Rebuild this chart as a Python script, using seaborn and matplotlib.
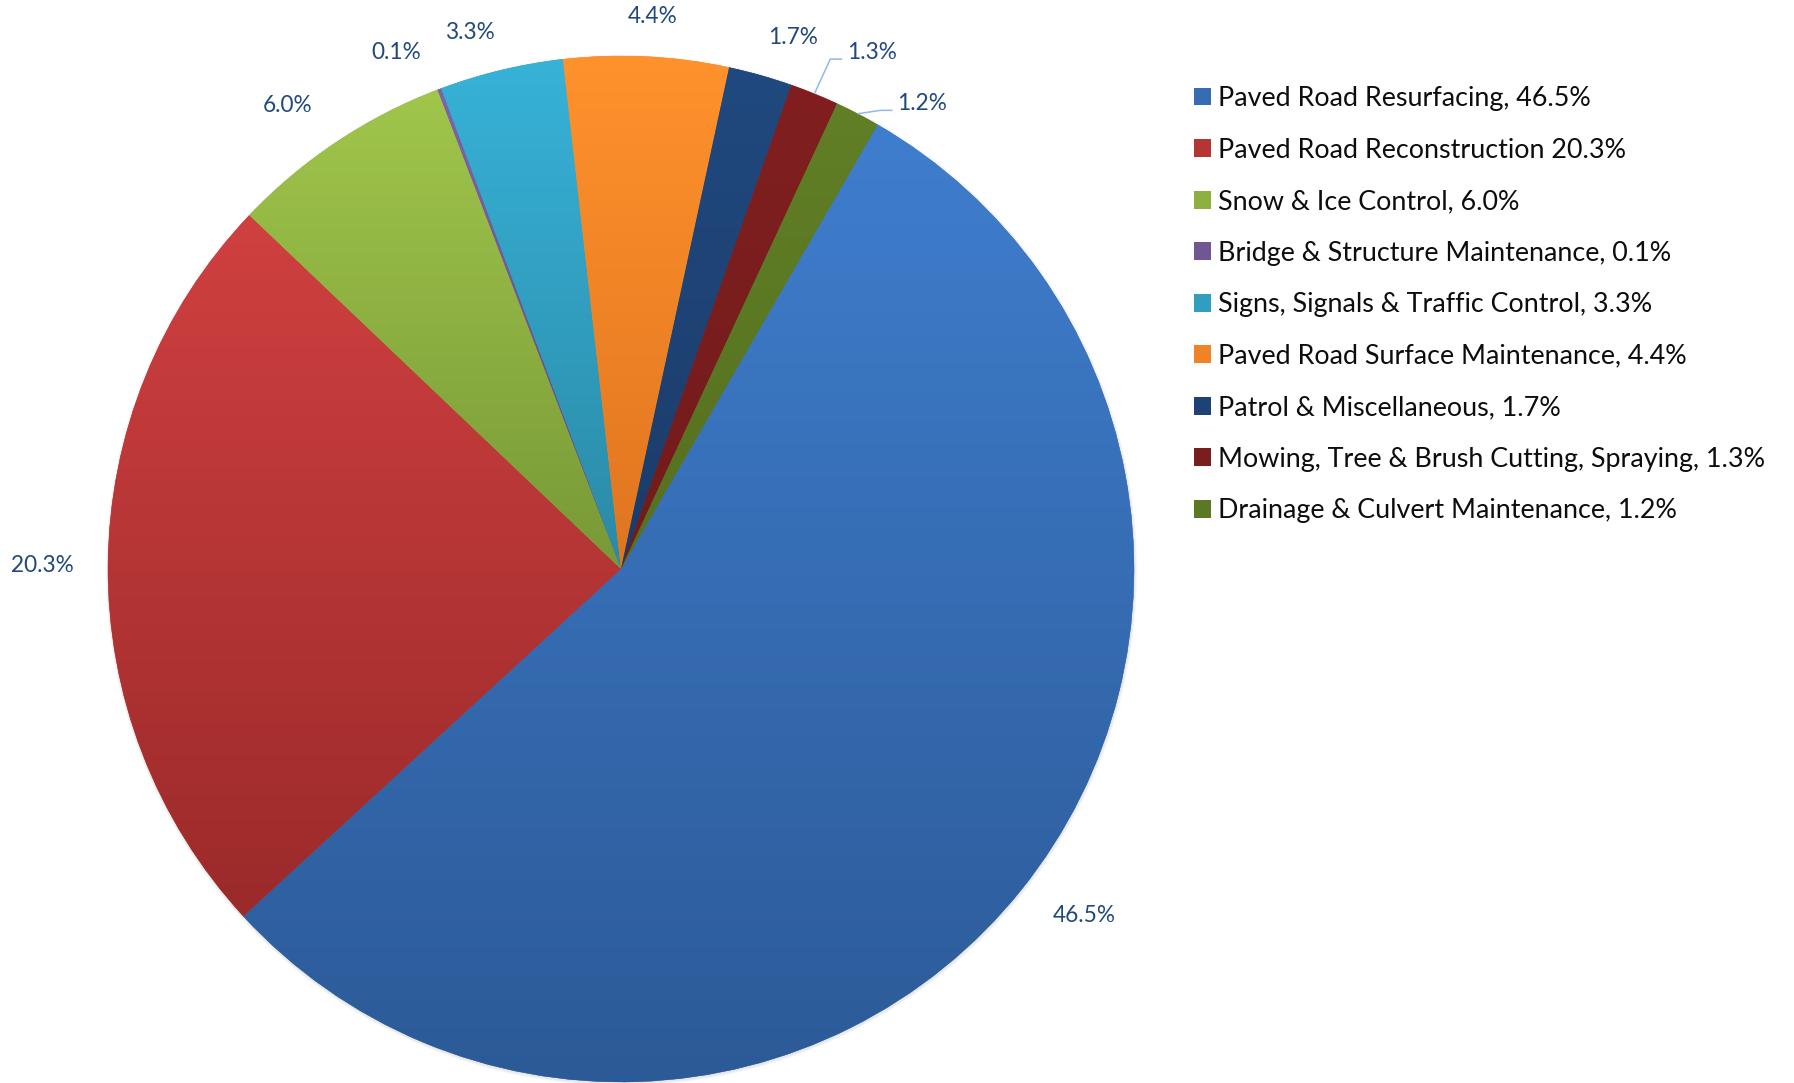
import numpy as np
import matplotlib
matplotlib.use("Agg")
import matplotlib.pyplot as plt
import seaborn as sns
from matplotlib.patches import Patch, Circle
from matplotlib.colors import to_rgb

# ---------------- data ----------------
categories = [
    "Paved Road Resurfacing",
    "Paved Road Reconstruction",
    "Snow & Ice Control",
    "Bridge & Structure Maintenance",
    "Signs, Signals & Traffic Control",
    "Paved Road Surface Maintenance",
    "Patrol & Miscellaneous",
    "Mowing, Tree & Brush Cutting, Spraying",
    "Drainage & Culvert Maintenance",
]
shares = [46.5, 20.3, 6.0, 0.1, 3.3, 4.4, 1.7, 1.3, 1.2]
legend_labels = [
    "Paved Road Resurfacing, 46.5%",
    "Paved Road Reconstruction 20.3%",
    "Snow & Ice Control, 6.0%",
    "Bridge & Structure Maintenance, 0.1%",
    "Signs, Signals & Traffic Control, 3.3%",
    "Paved Road Surface Maintenance, 4.4%",
    "Patrol & Miscellaneous, 1.7%",
    "Mowing, Tree & Brush Cutting, Spraying, 1.3%",
    "Drainage & Culvert Maintenance, 1.2%",
]
pct_labels = [f"{v:.1f}%" for v in shares]

# ---------------- style ----------------
top_colors = ["#3F7ECE", "#D04040", "#A1C64B", "#8064A8", "#37B2D8",
              "#FF922C", "#20497F", "#811F20", "#617F26"]
bottom_colors = ["#2C5A97", "#9B2A2A", "#789937", "#60477F", "#2B8AA6",
                 "#DF7520", "#1C3C69", "#721B1B", "#55701F"]
label_color = "#1F497D"
leader_color = "#95B8E3"

W, H = 1794, 1083
sns.set_theme(style="white")
plt.rcParams["font.family"] = ["Lato", "DejaVu Sans"]

fig = plt.figure(figsize=(W / 100, H / 100), dpi=100)
ax = fig.add_axes([0, 0, 1, 1])

cx, cy, R = 621.0, H - 569.0, 513.0

def blend(a, b, t):
    a, b = np.array(to_rgb(a)), np.array(to_rgb(b))
    return tuple((1 - t) * a + t * b)

mid_colors = [blend(a, b, 0.5) for a, b in zip(top_colors, bottom_colors)]

# soft shadow
for k in range(4):
    ax.add_patch(Circle((cx + 0.5, cy - 1.2), R + 0.7 * (k + 1), facecolor="black",
                        edgecolor="none", alpha=0.022, zorder=0.5))

wedges, _ = ax.pie(shares, colors=mid_colors, startangle=60, counterclock=False,
                   center=(cx, cy), radius=R, frame=False,
                   wedgeprops=dict(linewidth=0.3, edgecolor="none", zorder=1))
for w, c in zip(wedges, mid_colors):
    w.set_edgecolor(c)

# vertical gradient inside each slice
t = np.linspace(0, 1, 256)[:, None, None]
for w, ct, cb in zip(wedges, top_colors, bottom_colors):
    ext = w.get_path().get_extents()
    img = (1 - t) * np.array(to_rgb(ct)) + t * np.array(to_rgb(cb))
    im = ax.imshow(img, extent=(ext.x0, ext.x1, ext.y0, ext.y1), origin="upper",
                   aspect="auto", interpolation="bilinear", zorder=1.5)
    im.set_clip_path(w)

ax.set_xlim(0, W)
ax.set_ylim(0, H)
ax.set_aspect("auto")
ax.axis("off")

# data labels (outside end)
label_r = [1.128, 1.128, 1.113, 1.099, 1.087, 1.078, 1.089, 1.119, 1.080]
label_shift = [-1.9, -0.1, -2.0, -2.8, -2.2, 0.4, 2.2, 3.75, 5.45]
has_leader = [False] * 7 + [True, True]

renderer = fig.canvas.get_renderer()
for w, txt, rf, sh, ld in zip(wedges, pct_labels, label_r, label_shift, has_leader):
    mid = 0.5 * (w.theta1 + w.theta2)
    a = np.deg2rad(mid - sh)
    x, y = cx + rf * R * np.cos(a), cy + rf * R * np.sin(a)
    tx = ax.text(x, y, txt, ha="center", va="center", fontsize=16.3,
                 color=label_color, zorder=5)
    if ld:
        bb = tx.get_window_extent(renderer)
        left = bb.x0
        am = np.deg2rad(mid)
        sx, sy = cx + R * np.cos(am), cy + R * np.sin(am)
        ex, ey = left - 4.5, y - 6.5
        ax.plot([sx, ex - 12, ex], [sy, ey, ey], color=leader_color, lw=1.1,
                solid_capstyle="butt", zorder=4)

handles = [Patch(facecolor=c, edgecolor="none") for c in mid_colors]
fig.legend(handles, legend_labels, loc="upper left",
           bbox_to_anchor=(1194 / W, 1 - 86 / H), frameon=False, fontsize=19.4,
           handlelength=0.64, handleheight=0.64, handletextpad=0.24,
           labelspacing=0.985, borderpad=0, borderaxespad=0,
           labelcolor="#0D0D0D")

fig.savefig("out.png", dpi=100, facecolor="white")
